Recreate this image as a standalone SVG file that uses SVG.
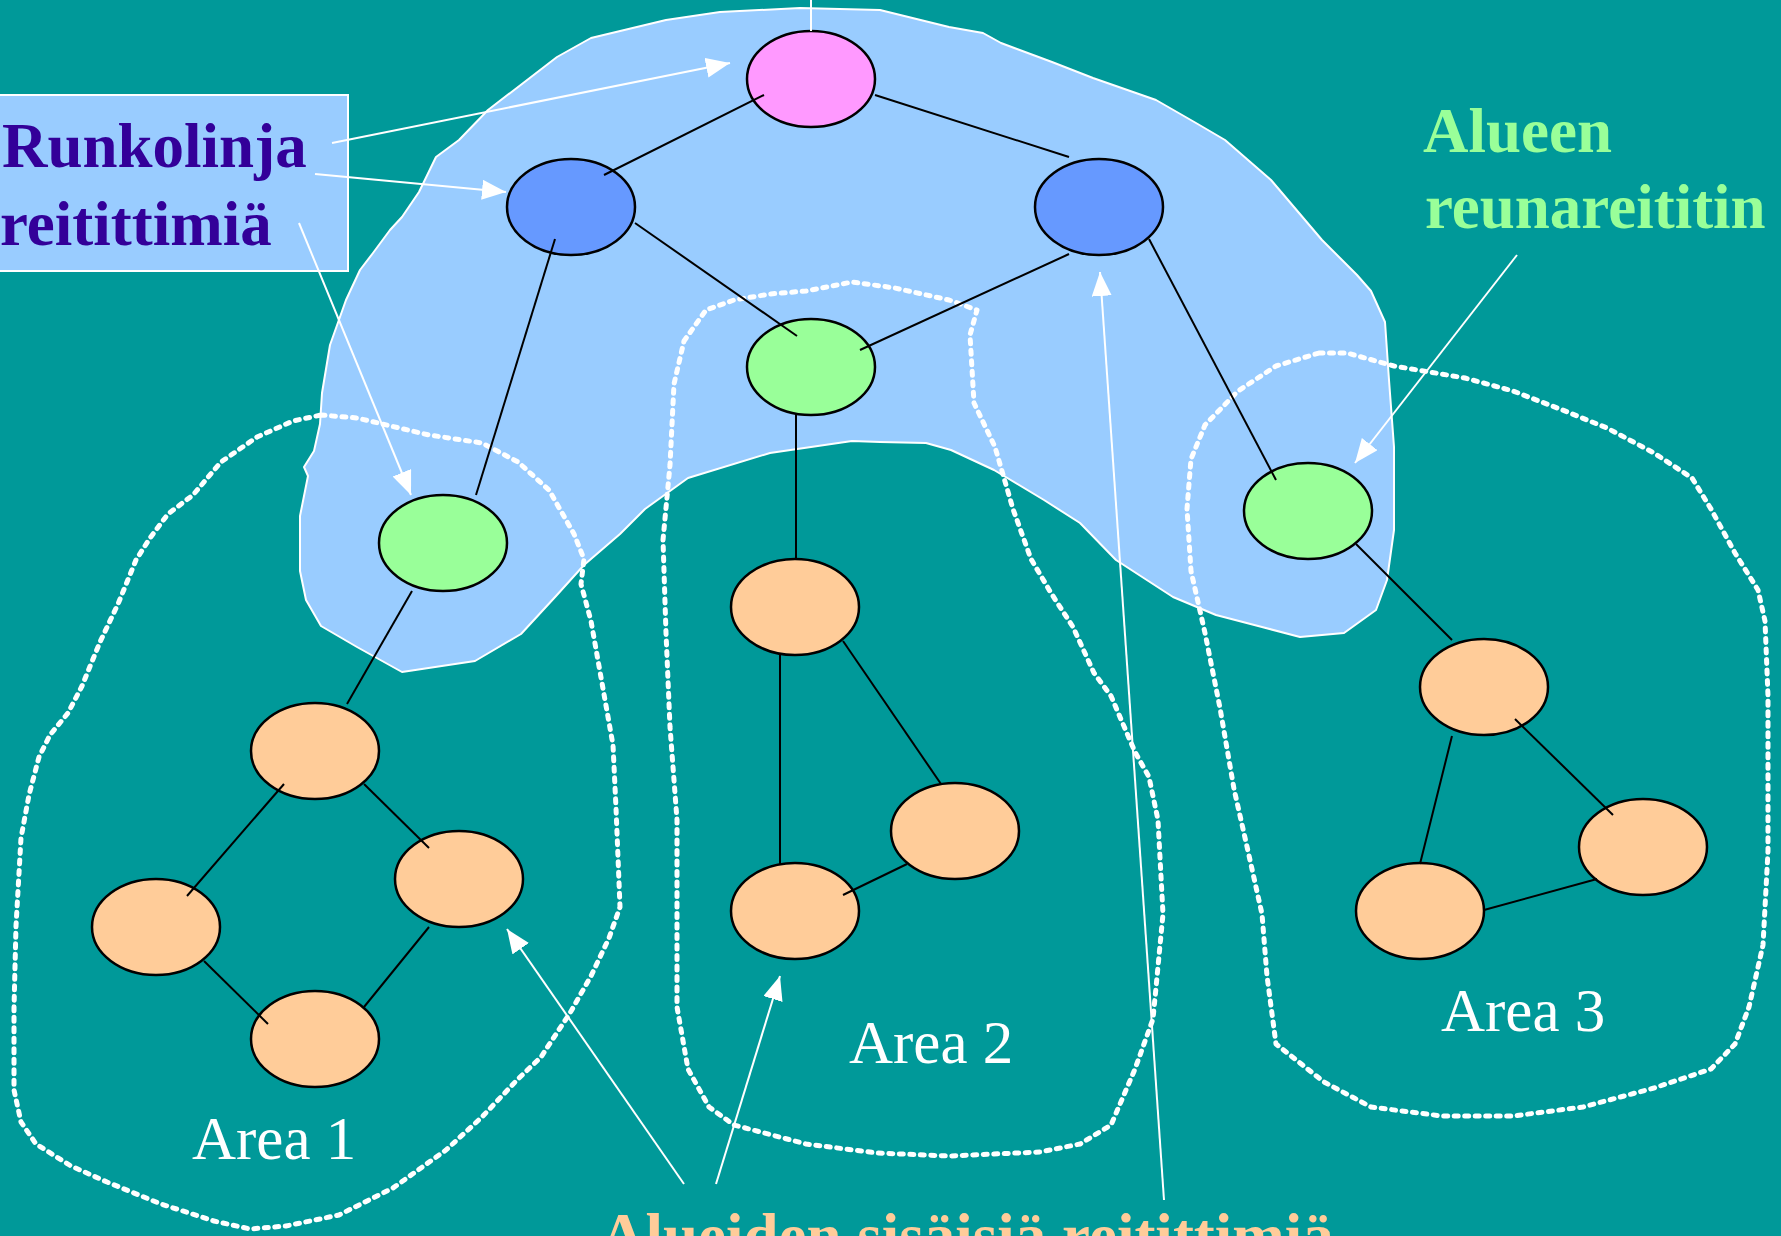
<svg xmlns="http://www.w3.org/2000/svg" width="1781" height="1236" viewBox="0 0 1781 1236">
  <defs>
    <marker id="arrowhead" markerUnits="userSpaceOnUse" markerWidth="26" markerHeight="22" refX="24" refY="10" orient="auto">
      <path d="M0,0 L24,10 L0,20 Z" fill="#ffffff"/>
    </marker>
    <style>
      .bg { fill: #009999; }
      .backbone { fill: #99ccff; stroke: #ffffff; stroke-width: 2; stroke-linejoin: round; }
      .area { fill: none; stroke: #ffffff; stroke-width: 5; stroke-dasharray: 4 6.5; stroke-linecap: round; stroke-linejoin: round; }
      .router { stroke: #000000; stroke-width: 2.5; }
      .root { fill: #ff99ff; }
      .core { fill: #6699ff; }
      .border { fill: #99ff99; }
      .internal { fill: #ffcc99; }
      .link { stroke: #000000; stroke-width: 2; fill: none; }
      .pointer { stroke: #ffffff; stroke-width: 2; fill: none; }
      .label { font-family: "Liberation Serif", "Times New Roman", serif; }
      .bold { font-weight: bold; font-size: 63px; }
      .area-name { font-size: 61px; fill: #ffffff; }
    </style>
  </defs>

  <rect class="bg" x="0" y="0" width="1781" height="1236"/>

  <!-- backbone region -->
  <path id="backbone-region" class="backbone" d="M402,672 L357,647 L321,626 L306,600 L300,571 L300,516 L308,476 L304,467 L314,451 L320,424 L322,393 L330,345 L346,300 L360,270 L373,253 L390,230 L402,217 L419,192 L436,157 L459,140 L488,110 L557,57 L591,38 L666,20 L720,12 L800,8 L880,10 L949,27 L983,33 L1001,43 L1052,62 L1093,78 L1156,100 L1196,123 L1225,140 L1271,180 L1322,240 L1342,260 L1357,275 L1371,291 L1385,322 L1389,380 L1394,447 L1394,530 L1387,580 L1376,610 L1344,633 L1300,637 L1262,627 L1216,615 L1173,597 L1116,560 L1080,523 L1044,500 L994,470 L951,450 L926,443 L880,442 L852,441 L770,453 L688,478 L645,509 L620,534 L584,565 L556,596 L521,634 L475,661 Z"/>

  <!-- area boundaries -->
  <g id="area-boundaries">
    <path id="area1-boundary" class="area" d="M321,415 L357,418 L429,435 L482,443 L518,462 L549,490 L574,534 L584,559 L581,584 L591,621 L602,683 L613,745 L616,808 L620,907 L609,938 L591,976 L570,1013 L541,1057 L518,1079 L482,1117 L446,1150 L393,1188 L339,1215 L286,1226 L250,1229 L214,1221 L161,1204 L107,1182 L71,1166 L36,1144 L21,1122 L14,1090 L14,1008 L16,926 L21,838 L29,795 L39,757 L50,735 L68,713 L82,686 L100,642 L118,604 L136,560 L150,538 L168,514 L193,495 L221,462 L257,437 L293,421 Z"/>
    <path id="area2-boundary" class="area" d="M684,341 L706,310 L734,300 L770,294 L806,291 L852,282 L895,288 L949,300 L977,310 L970,335 L974,403 L995,447 L1013,509 L1031,559 L1051,593 L1073,627 L1094,673 L1111,696 L1135,752 L1149,777 L1158,820 L1163,914 L1153,1019 L1135,1069 L1111,1125 L1080,1144 L1040,1152 L949,1156 L877,1153 L806,1144 L734,1125 L709,1107 L688,1069 L677,1007 L677,914 L677,820 L670,727 L666,633 L663,540 L670,465 L674,384 Z"/>
    <path id="area3-boundary" class="area" d="M1319,353 L1347,353 L1394,366 L1465,378 L1513,391 L1560,409 L1607,428 L1654,453 L1692,478 L1711,509 L1735,553 L1758,590 L1765,621 L1768,696 L1768,851 L1763,945 L1749,1007 L1735,1044 L1711,1069 L1654,1088 L1583,1107 L1513,1116 L1442,1116 L1371,1107 L1324,1082 L1276,1044 L1267,976 L1262,914 L1248,851 L1234,789 L1220,708 L1205,633 L1191,571 L1187,509 L1191,459 L1205,425 L1238,391 L1276,366 Z"/>
  </g>

  <!-- routers -->
  <g id="router-root"><ellipse class="router root" cx="811" cy="79" rx="64" ry="48"/></g>
  <g id="router-core-left"><ellipse class="router core" cx="571" cy="207" rx="64" ry="48"/></g>
  <g id="router-core-right"><ellipse class="router core" cx="1099" cy="207" rx="64" ry="48"/></g>
  <g id="router-border-2"><ellipse class="router border" cx="811" cy="367" rx="64" ry="48"/></g>
  <g id="router-border-1"><ellipse class="router border" cx="443" cy="543" rx="64" ry="48"/></g>
  <g id="router-border-3"><ellipse class="router border" cx="1308" cy="511" rx="64" ry="48"/></g>
  <g id="router-a1-top"><ellipse class="router internal" cx="315" cy="751" rx="64" ry="48"/></g>
  <g id="router-a1-right"><ellipse class="router internal" cx="459" cy="879" rx="64" ry="48"/></g>
  <g id="router-a1-left"><ellipse class="router internal" cx="156" cy="927" rx="64" ry="48"/></g>
  <g id="router-a1-bottom"><ellipse class="router internal" cx="315" cy="1039" rx="64" ry="48"/></g>
  <g id="router-a2-top"><ellipse class="router internal" cx="795" cy="607" rx="64" ry="48"/></g>
  <g id="router-a2-right"><ellipse class="router internal" cx="955" cy="831" rx="64" ry="48"/></g>
  <g id="router-a2-left"><ellipse class="router internal" cx="795" cy="911" rx="64" ry="48"/></g>
  <g id="router-a3-top"><ellipse class="router internal" cx="1484" cy="687" rx="64" ry="48"/></g>
  <g id="router-a3-right"><ellipse class="router internal" cx="1643" cy="847" rx="64" ry="48"/></g>
  <g id="router-a3-left"><ellipse class="router internal" cx="1420" cy="911" rx="64" ry="48"/></g>

  <!-- links between routers -->
  <g id="links">
    <line class="link" x1="764" y1="95" x2="604" y2="175"/>
    <line class="link" x1="875" y1="95" x2="1069" y2="157"/>
    <line class="link" x1="635" y1="223" x2="797" y2="336"/>
    <line class="link" x1="1069" y1="254" x2="860" y2="350"/>
    <line class="link" x1="555" y1="239" x2="476" y2="495"/>
    <line class="link" x1="1149" y1="239" x2="1276" y2="480"/>
    <line class="link" x1="796" y1="414" x2="796" y2="559"/>
    <line class="link" x1="412" y1="591" x2="347" y2="704"/>
    <line class="link" x1="1356" y1="544" x2="1452" y2="640"/>
    <line class="link" x1="284" y1="784" x2="187" y2="896"/>
    <line class="link" x1="364" y1="784" x2="429" y2="848"/>
    <line class="link" x1="204" y1="961" x2="268" y2="1024"/>
    <line class="link" x1="429" y1="927" x2="364" y2="1007"/>
    <line class="link" x1="780" y1="655" x2="780" y2="864"/>
    <line class="link" x1="843" y1="641" x2="941" y2="784"/>
    <line class="link" x1="843" y1="895" x2="907" y2="864"/>
    <line class="link" x1="1452" y1="736" x2="1420" y2="864"/>
    <line class="link" x1="1515" y1="719" x2="1613" y2="815"/>
    <line class="link" x1="1484" y1="910" x2="1597" y2="879"/>
  </g>

  <!-- label box for backbone routers -->
  <g id="label-backbone">
    <rect x="-5" y="95" width="353" height="176" fill="#99ccff" stroke="#ffffff" stroke-width="2"/>
    <text class="label bold" x="2" y="167" fill="#330099">Runkolinja</text>
    <text class="label bold" x="0" y="245" fill="#330099">reitittimiä</text>
  </g>

  <g id="label-border">
    <text class="label bold" x="1423" y="152" fill="#99ff99">Alueen</text>
    <text class="label bold" x="1425" y="228" fill="#99ff99">reunareititin</text>
  </g>

  <g id="label-internal">
    <text class="label bold" x="600" y="1257" fill="#ffcc99">Alueiden sisäisiä reitittimiä</text>
  </g>

  <g id="area-names">
    <text class="label area-name" x="192" y="1159">Area 1</text>
    <text class="label area-name" x="849" y="1063">Area 2</text>
    <text class="label area-name" x="1441" y="1031">Area 3</text>
  </g>

  <!-- pointers from labels to routers -->
  <g id="pointers">
    <line class="pointer" x1="811" y1="0" x2="811" y2="31"/>
    <line class="pointer" x1="332" y1="143" x2="730" y2="63" stroke-width="2.5" marker-end="url(#arrowhead)"/>
    <line class="pointer" x1="315" y1="174" x2="506" y2="192" stroke-width="2.5" marker-end="url(#arrowhead)"/>
    <line class="pointer" x1="299" y1="223" x2="411" y2="495" marker-end="url(#arrowhead)"/>
    <line class="pointer" x1="1517" y1="255" x2="1355" y2="463" marker-end="url(#arrowhead)"/>
    <line class="pointer" x1="684" y1="1184" x2="507" y2="929" marker-end="url(#arrowhead)"/>
    <line class="pointer" x1="716" y1="1184" x2="780" y2="976" marker-end="url(#arrowhead)"/>
    <line class="pointer" x1="1164" y1="1200" x2="1100" y2="272" marker-end="url(#arrowhead)"/>
  </g>
</svg>
